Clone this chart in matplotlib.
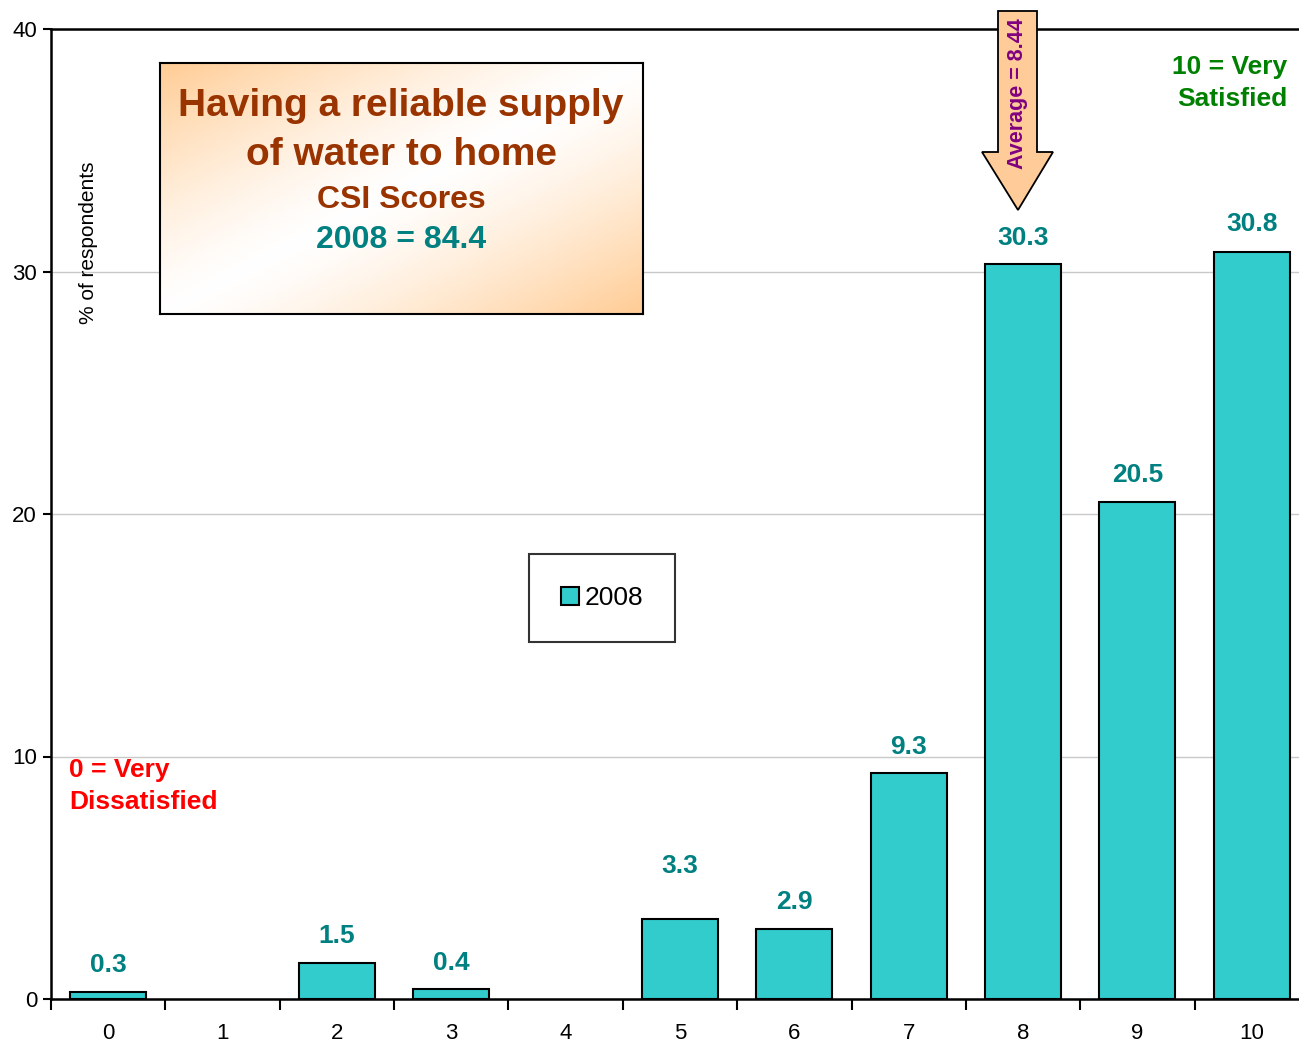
import numpy as np
import matplotlib
matplotlib.use('Agg')
import matplotlib.pyplot as plt
from matplotlib.patches import Polygon

plt.rcParams['font.family'] = ['Liberation Sans', 'DejaVu Sans']

scores = ['0', '1', '2', '3', '4', '5', '6', '7', '8', '9', '10']
pct_2008 = [0.3, 0, 1.5, 0.4, 0, 3.3, 2.9, 9.3, 30.3, 20.5, 30.8]
labels_2008 = ['0.3', '', '1.5', '0.4', '', '3.3', '2.9', '9.3', '30.3', '20.5', '30.8']
average = 8.44

W, H = 1299, 1044
fig = plt.figure(figsize=(W / 100, H / 100), dpi=100)

# plot area (right edge runs slightly past the picture, as in the original)
ax = fig.add_axes([51 / W, 45 / H, 1258 / W, 970 / H])
x = np.arange(len(scores))
lws = [1.5 if v > 0 else 0 for v in pct_2008]
ax.bar(x, pct_2008, width=0.665, color='#33CCCC', edgecolor='black', linewidth=lws,
       label='2008', zorder=3)

# label offsets above bar top (points); the 3.3 label sits higher in the original
lab_off = [20, 20, 20, 20, 20, 39, 20, 20, 20, 20, 21]
for xi, v, lab, off in zip(x, pct_2008, labels_2008, lab_off):
    if lab:
        ax.annotate(lab, (xi, v), xytext=(0, off - 1), textcoords='offset points',
                    ha='center', va='center', fontsize=19, fontweight='bold', color='#008080')

ax.set_xlim(-0.5, 10.5)
ax.set_ylim(0, 40)
ax.set_yticks([0, 10, 20, 30, 40])
ax.set_xticks(x)
ax.set_xticklabels(scores)
ax.set_xticks(np.arange(-0.5, 11, 1), minor=True)
ax.tick_params(axis='x', which='major', length=0, labelsize=16, pad=17)
ax.tick_params(axis='x', which='minor', length=8, width=1.5, direction='out')
ax.tick_params(axis='y', length=6, width=1.5, labelsize=16, pad=4)
ax.grid(axis='y', color='#C8C8C8', linewidth=1, zorder=0)
for s in ['left', 'bottom', 'top']:
    ax.spines[s].set_linewidth(1.8)
ax.spines['right'].set_visible(False)

fig.text(89 / W, 1 - 243 / H, '% of respondents', rotation=90, ha='center', va='center',
         fontsize=15)

leg = ax.legend(loc='center', bbox_to_anchor=((602 - 51) / 1258, (1044 - 598 - 45) / 970),
                fontsize=19, frameon=True, fancybox=False, handlelength=0.7, handleheight=0.7,
                handletextpad=0.2, borderpad=1.2, borderaxespad=0)
leg.get_frame().set_edgecolor('black')
leg.get_frame().set_linewidth(1.5)

# title box with orange-white-orange diagonal gradient
bx0, by0, bx1, by1 = 160, 63, 643, 314
bax = fig.add_axes([bx0 / W, 1 - by1 / H, (bx1 - bx0) / W, (by1 - by0) / H])
gx, gy = np.meshgrid(np.linspace(0, 1, 300), np.linspace(0, 1, 200))
t = np.abs((gx + gy) / 2 - 0.5) * 2
t = np.clip(t, 0, 1) ** 1.3
c_or = np.array([1.0, 0.80, 0.58])
img = (1 - t[..., None]) * np.ones(3) + t[..., None] * c_or
bax.imshow(img, extent=[0, 1, 0, 1], aspect='auto', origin='upper')
bax.set_xticks([])
bax.set_yticks([])
for s in bax.spines.values():
    s.set_linewidth(1.5)

brown = '#993300'
fig.text(401 / W, 1 - 106 / H, 'Having a reliable supply', ha='center', va='center',
         fontsize=28, fontweight='bold', color=brown)
fig.text(401 / W, 1 - 155 / H, 'of water to home', ha='center', va='center',
         fontsize=28, fontweight='bold', color=brown)
fig.text(401 / W, 1 - 200 / H, 'CSI Scores', ha='center', va='center',
         fontsize=23, fontweight='bold', color=brown)
fig.text(401 / W, 1 - 240 / H, '2008 = 84.4', ha='center', va='center',
         fontsize=23, fontweight='bold', color='#008080')

fig.text(1287 / W, 1 - 83 / H, '10 = Very\nSatisfied', ha='right', va='center',
         fontsize=19, fontweight='bold', color='#008000', linespacing=1.45)
fig.text(69 / W, 1 - 786 / H, '0 = Very\nDissatisfied', ha='left', va='center',
         fontsize=19, fontweight='bold', color='#FF0000', linespacing=1.4)

# average arrow
arrow_pts = [(998, 11), (1037, 11), (1037, 152), (1053, 152), (1018, 210),
             (982, 152), (998, 152)]
arrow = Polygon([(px / W, 1 - py / H) for px, py in arrow_pts], closed=True,
                transform=fig.transFigure, facecolor='#FFCC99', edgecolor='black',
                linewidth=1.3, zorder=5)
fig.patches.append(arrow)
fig.text(1017 / W, 1 - 94 / H, 'Average = %.2f' % average, rotation=90, ha='center',
         va='center', fontsize=15.5, fontweight='bold', color='#800080', zorder=6)

fig.savefig('out.png', dpi=100)
